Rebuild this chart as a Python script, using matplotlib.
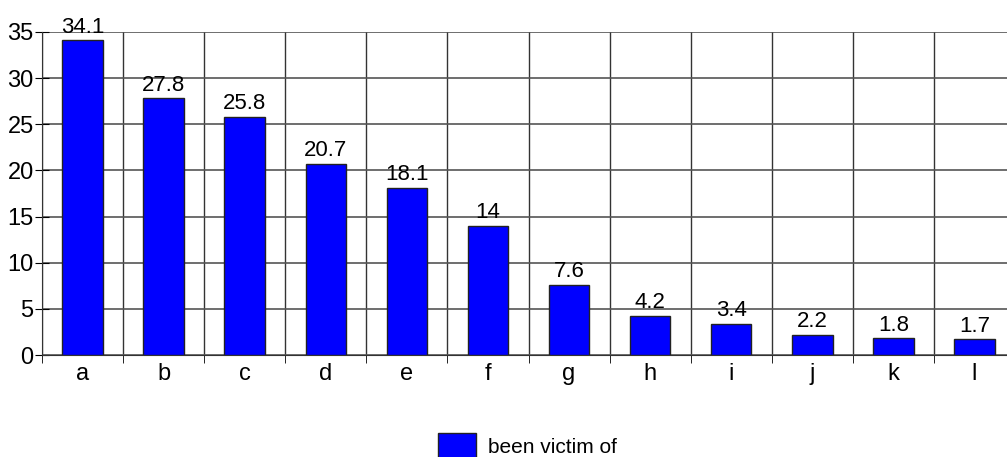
import matplotlib.pyplot as plt
import numpy as np

categories = ['a', 'b', 'c', 'd', 'e', 'f', 'g', 'h', 'i', 'j', 'k', 'l']
values = [34.1, 27.8, 25.8, 20.7, 18.1, 14, 7.6, 4.2, 3.4, 2.2, 1.8, 1.7]
value_labels = ['34.1', '27.8', '25.8', '20.7', '18.1', '14', '7.6', '4.2', '3.4', '2.2', '1.8', '1.7']
series_name = 'been victim of'

plt.rcParams['font.family'] = ['Liberation Sans Narrow', 'Liberation Sans', 'DejaVu Sans']

fig = plt.figure(figsize=(10.07, 4.57), dpi=100)
ax = fig.add_axes([42 / 1007, 1 - 355 / 457, (1015 - 42) / 1007, (355 - 32) / 457])

x = np.arange(len(categories))
bars = ax.bar(x, values, width=0.5, color='#0000ff', edgecolor='#222222', linewidth=1,
              label=series_name, zorder=3)

for xi, v, lab in zip(x, values, value_labels):
    ax.text(xi, v + 0.3, lab, ha='center', va='bottom', fontsize=16, zorder=4)

ax.set_xlim(-0.5, len(categories) - 0.5)
ax.set_ylim(0, 35)
ax.set_yticks(range(0, 36, 5))
ax.set_xticks(x)
ax.set_xticklabels(categories)
ax.set_xticks(np.arange(-0.5, len(categories), 1), minor=True)

ax.tick_params(axis='y', direction='inout', length=10, labelsize=17, pad=1)
ax.tick_params(axis='x', which='major', length=0, labelsize=17, pad=6)
ax.tick_params(axis='x', which='minor', direction='out', length=6)

ax.grid(axis='y', which='major', color='#555555', linewidth=1.2, zorder=0)
ax.grid(axis='x', which='minor', color='#333333', linewidth=1, zorder=0)

for s in ['top', 'right']:
    ax.spines[s].set_visible(False)
ax.spines['left'].set_color('#333333')
ax.spines['bottom'].set_color('#333333')

fig.legend(handles=[bars], labels=[series_name], loc='center', bbox_to_anchor=(0.524, 1 - 446 / 457),
           frameon=False, fontsize=15, handlelength=1.8, handleheight=1.6, handletextpad=0.6)

plt.savefig('out.png', dpi=100)
plt.close()
